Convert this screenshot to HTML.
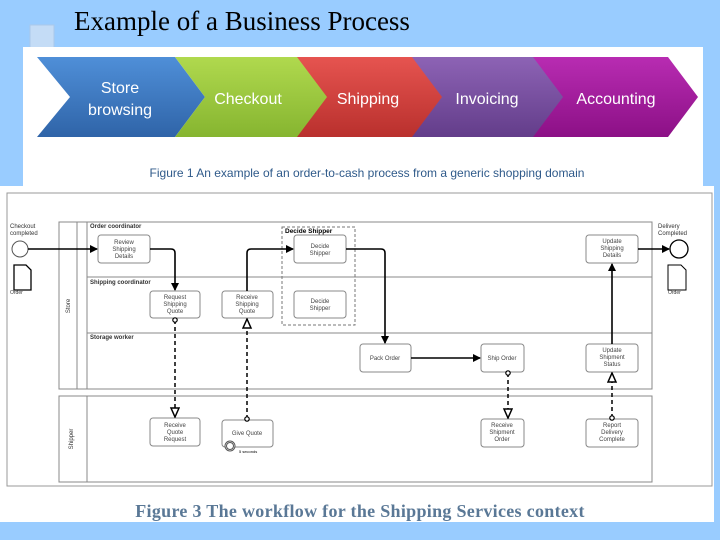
<!DOCTYPE html>
<html><head><meta charset="utf-8"><style>
html,body{margin:0;padding:0;background:#99ccff;width:720px;height:540px;overflow:hidden}
svg{display:block}
</style></head><body>
<svg width="720" height="540" xmlns="http://www.w3.org/2000/svg" font-family="Liberation Sans, sans-serif">
<defs>
<marker id="a" markerWidth="8" markerHeight="8" refX="7" refY="4" orient="auto" markerUnits="userSpaceOnUse"><path d="M0,0 L8,4 L0,8 Z" fill="#000"/></marker>
<marker id="h" markerWidth="11" markerHeight="11" refX="10" refY="5" orient="auto" markerUnits="userSpaceOnUse"><path d="M1,1 L10,5 L1,9 Z" fill="#fff" stroke="#000" stroke-width="1.5"/></marker>
<marker id="o" markerWidth="6" markerHeight="6" refX="3" refY="3" orient="auto" markerUnits="userSpaceOnUse"><circle cx="3" cy="3" r="2.2" fill="#fff" stroke="#000" stroke-width="1.2"/></marker>
<linearGradient id="gb" x1="0" y1="0" x2="0" y2="1"><stop offset="0" stop-color="#4f8fd8"/><stop offset="1" stop-color="#2f64a8"/></linearGradient>
<linearGradient id="gg" x1="0" y1="0" x2="0" y2="1"><stop offset="0" stop-color="#b0d94e"/><stop offset="1" stop-color="#86b530"/></linearGradient>
<linearGradient id="gr" x1="0" y1="0" x2="0" y2="1"><stop offset="0" stop-color="#e65450"/><stop offset="1" stop-color="#b9302d"/></linearGradient>
<linearGradient id="gp" x1="0" y1="0" x2="0" y2="1"><stop offset="0" stop-color="#8d63b5"/><stop offset="1" stop-color="#633d8a"/></linearGradient>
<linearGradient id="gm" x1="0" y1="0" x2="0" y2="1"><stop offset="0" stop-color="#b82cb2"/><stop offset="1" stop-color="#8c1086"/></linearGradient>
</defs>
<rect x="30" y="25" width="24" height="24" fill="#c4dcf6" stroke="#aac8ea"/>
<text x="74" y="30" font-family="Liberation Serif, serif" font-size="27" fill="#000">Example of a Business Process</text>
<rect x="23" y="47" width="680" height="140" fill="#fff"/>
<path d="M37,57 H175 L205,97 L175,137 H37 L70,97 Z" fill="url(#gb)"/>
<path d="M175,57 H300 L330,97 L300,137 H175 L205,97 Z" fill="url(#gg)"/>
<path d="M297,57 H418 L448,97 L418,137 H297 L327,97 Z" fill="url(#gr)"/>
<path d="M412,57 H540 L570,97 L540,137 H412 L442,97 Z" fill="url(#gp)"/>
<path d="M533,57 H668 L698,97 L668,137 H533 L563,97 Z" fill="url(#gm)"/>
<g fill="#fff" font-size="16" text-anchor="middle">
<text x="120" y="93">Store</text><text x="120" y="115">browsing</text>
<text x="248" y="104">Checkout</text>
<text x="368" y="104">Shipping</text>
<text x="487" y="104">Invoicing</text>
<text x="616" y="104">Accounting</text>
</g>
<text x="367" y="177" font-size="12" fill="#2f5a8a" text-anchor="middle">Figure 1 An example of an order-to-cash process from a generic shopping domain</text>
<rect x="0" y="186" width="714" height="336" fill="#fff"/>
<rect x="7" y="193" width="705" height="293" fill="#fff" stroke="#999" stroke-width="1"/>
<g fill="none" stroke="#888" stroke-width="1">
<rect x="59" y="222" width="593" height="167"/>
<line x1="77" y1="222" x2="77" y2="389"/><line x1="87" y1="222" x2="87" y2="389"/>
<line x1="87" y1="277" x2="652" y2="277"/><line x1="87" y1="333" x2="652" y2="333"/>
<rect x="59" y="396" width="593" height="86"/>
<line x1="87" y1="396" x2="87" y2="482"/>
</g>
<g font-size="6" fill="#333">
<text x="90" y="228" font-weight="bold">Order coordinator</text>
<text x="90" y="284" font-weight="bold">Shipping coordinator</text>
<text x="90" y="339" font-weight="bold">Storage worker</text>
<text x="10" y="228">Checkout</text><text x="10" y="235">completed</text>
<text x="10" y="294" font-size="5">Order</text>
<text x="658" y="228">Delivery</text><text x="658" y="235">Completed</text>
<text x="668" y="294" font-size="5">Order</text>
<text x="70" y="306" transform="rotate(-90 70 306)" text-anchor="middle">Store</text>
<text x="73" y="439" transform="rotate(-90 73 439)" text-anchor="middle">Shipper</text>
</g>
<rect x="282" y="227" width="73" height="98" fill="none" stroke="#777" stroke-dasharray="3,2"/>
<text x="285" y="233" font-size="6.5" font-weight="bold">Decide Shipper</text>
<g fill="#fff" stroke="#888" stroke-width="1">
<rect x="98" y="235" width="52" height="28" rx="3"/>
<rect x="150" y="291" width="50" height="27" rx="3"/>
<rect x="222" y="291" width="51" height="27" rx="3"/>
<rect x="294" y="235" width="52" height="28" rx="3"/>
<rect x="294" y="291" width="52" height="27" rx="3"/>
<rect x="360" y="344" width="51" height="28" rx="3"/>
<rect x="481" y="344" width="43" height="28" rx="3"/>
<rect x="586" y="344" width="52" height="28" rx="3"/>
<rect x="586" y="235" width="52" height="28" rx="3"/>
<rect x="150" y="418" width="50" height="28" rx="3"/>
<rect x="222" y="420" width="51" height="27" rx="3"/>
<rect x="481" y="419" width="43" height="28" rx="3"/>
<rect x="586" y="419" width="52" height="28" rx="3"/>
</g>
<g font-size="6" fill="#444" text-anchor="middle">
<text x="124" y="244">Review</text><text x="124" y="251">Shipping</text><text x="124" y="258">Details</text>
<text x="175" y="299">Request</text><text x="175" y="306">Shipping</text><text x="175" y="313">Quote</text>
<text x="247" y="299">Receive</text><text x="247" y="306">Shipping</text><text x="247" y="313">Quote</text>
<text x="320" y="248">Decide</text><text x="320" y="255">Shipper</text>
<text x="320" y="303">Decide</text><text x="320" y="310">Shipper</text>
<text x="385" y="360">Pack Order</text>
<text x="502" y="360">Ship Order</text>
<text x="612" y="352">Update</text><text x="612" y="359">Shipment</text><text x="612" y="366">Status</text>
<text x="612" y="243">Update</text><text x="612" y="250">Shipping</text><text x="612" y="257">Details</text>
<text x="175" y="427">Receive</text><text x="175" y="434">Quote</text><text x="175" y="441">Request</text>
<text x="247" y="435">Give Quote</text>
<text x="502" y="427">Receive</text><text x="502" y="434">Shipment</text><text x="502" y="441">Order</text>
<text x="612" y="427">Report</text><text x="612" y="434">Delivery</text><text x="612" y="441">Complete</text>
</g>
<circle cx="20" cy="249" r="8" fill="#fff" stroke="#555"/>
<circle cx="679" cy="249" r="9" fill="#fff" stroke="#000" stroke-width="1.3"/>
<path d="M14,265 H26 L31,270 V290 H14 Z" fill="#fff" stroke="#000" stroke-width="1.3"/>
<path d="M668,265 H681 L686,270 V290 H668 Z" fill="#fff" stroke="#000" stroke-width="1"/>
<circle cx="230" cy="446" r="5" fill="#fff" stroke="#555"/><circle cx="230" cy="446" r="3.5" fill="none" stroke="#555"/>
<text x="239" y="453" font-size="4">5 seconds</text>
<g fill="none" stroke="#000" stroke-width="1.6">
<path d="M28,249 H97" marker-end="url(#a)"/>
<path d="M150,249 H171 Q175,249 175,253 V290" marker-end="url(#a)"/>
<path d="M247,291 V253 Q247,249 251,249 H293" marker-end="url(#a)"/>
<path d="M346,249 H381 Q385,249 385,253 V343" marker-end="url(#a)"/>
<path d="M411,358 H480" marker-end="url(#a)"/>
<path d="M612,344 V264" marker-end="url(#a)"/>
<path d="M638,249 H669" marker-end="url(#a)"/>
</g>
<g fill="none" stroke="#000" stroke-width="1.5" stroke-dasharray="4,3">
<path d="M175,320 V417" marker-start="url(#o)" marker-end="url(#h)"/>
<path d="M247,419 V319" marker-start="url(#o)" marker-end="url(#h)"/>
<path d="M508,373 V418" marker-start="url(#o)" marker-end="url(#h)"/>
<path d="M612,418 V373" marker-start="url(#o)" marker-end="url(#h)"/>
</g>
<text x="360" y="517" font-family="Liberation Serif, serif" font-size="18" font-weight="bold" letter-spacing="0.3" fill="#5a7896" text-anchor="middle">Figure 3 The workflow for the Shipping Services context</text>
</svg>
</body></html>
